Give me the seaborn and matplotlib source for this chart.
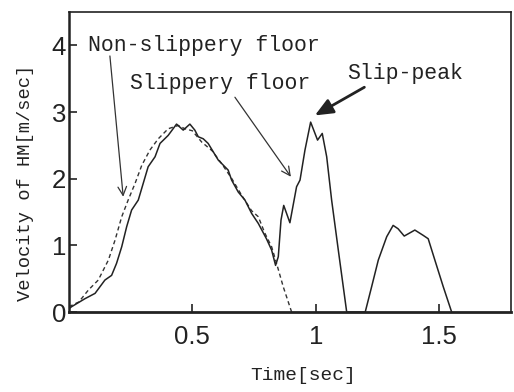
import matplotlib
matplotlib.use("Agg")
import matplotlib.pyplot as plt
import seaborn as sns
import pandas as pd

# Centre-of-mass velocity over time, slippery floor (solid)
slip_t = [0.0, 0.011, 0.065, 0.106, 0.146, 0.173, 0.193, 0.214, 0.234, 0.254,
          0.281, 0.301, 0.321, 0.349, 0.369, 0.402, 0.436, 0.463, 0.49, 0.51,
          0.524, 0.544, 0.564, 0.605, 0.645, 0.659, 0.686, 0.713, 0.74, 0.767,
          0.8, 0.821, 0.837, 0.848, 0.859, 0.870, 0.895, 0.922, 0.936, 0.956,
          0.979, 1.007, 1.026, 1.044, 1.064, 1.091, 1.125, 1.2, 1.226, 1.253,
          1.287, 1.313, 1.333, 1.358, 1.401, 1.435, 1.455, 1.482, 1.516, 1.55]
slip_v = [0.05, 0.08, 0.2, 0.28, 0.48, 0.55, 0.73, 0.98, 1.28, 1.53,
          1.68, 1.93, 2.18, 2.33, 2.53, 2.65, 2.82, 2.73, 2.82, 2.73,
          2.63, 2.6, 2.53, 2.28, 2.13, 1.98, 1.8, 1.68, 1.48, 1.33,
          1.1, 0.93, 0.7, 0.83, 1.38, 1.6, 1.34, 1.88, 1.98, 2.43,
          2.85, 2.58, 2.68, 2.33, 1.68, 0.93, 0.0, 0.0, 0.38, 0.78,
          1.13, 1.3, 1.25, 1.14, 1.23, 1.15, 1.1, 0.78, 0.38, 0.0]

# Non-slippery floor (dashed)
dry_t = [0.0, 0.04, 0.079, 0.119, 0.16, 0.187, 0.214, 0.24, 0.268, 0.295,
         0.328, 0.362, 0.402, 0.443, 0.47, 0.5, 0.538, 0.58, 0.62, 0.66,
         0.70, 0.74, 0.767, 0.794, 0.821, 0.841, 0.868, 0.902]
dry_v = [0.08, 0.15, 0.33, 0.48, 0.78, 1.08, 1.43, 1.68, 1.93, 2.2,
         2.43, 2.6, 2.75, 2.8, 2.75, 2.72, 2.55, 2.42, 2.22, 2.0,
         1.75, 1.52, 1.43, 1.18, 0.98, 0.73, 0.38, 0.0]

x_ticks = [0.5, 1, 1.5]
x_tick_labels = ["0.5", "1", "1.5"]
y_ticks = [0, 1, 2, 3, 4]

sns.set_theme(style="white")
plt.rcParams["font.family"] = ["Liberation Mono", "DejaVu Sans Mono"]

fig = plt.figure(figsize=(5.14, 3.92), dpi=100)
ax = fig.add_axes([0.134, 0.204, 0.860, 0.765])

slip_df = pd.DataFrame({"t": slip_t, "v": slip_v})
dry_df = pd.DataFrame({"t": dry_t, "v": dry_v})

sns.lineplot(data=dry_df, x="t", y="v", ax=ax, color="#333333", lw=1.0,
             linestyle=(0, (3, 2.2)), sort=False)
sns.lineplot(data=slip_df, x="t", y="v", ax=ax, color="#222222", lw=1.1,
             sort=False)

ax.set_xlim(0, 1.79)
ax.set_ylim(0, 4.5)
ax.set_xticks(x_ticks)
ax.set_xticklabels(x_tick_labels)
ax.set_yticks(y_ticks)

tick_font = {"family": "Liberation Sans", "size": 18.5}
for lab in ax.get_xticklabels() + ax.get_yticklabels():
    lab.set_fontfamily(tick_font["family"])
    lab.set_fontsize(tick_font["size"])
    lab.set_color("#222222")

ax.tick_params(axis="both", direction="in", length=6, width=1.2,
               color="#222222", left=True, bottom=True)
ax.tick_params(axis="x", pad=9)
ax.tick_params(axis="y", pad=2)

for side, lw in [("left", 1.8), ("bottom", 2.0), ("top", 1.2), ("right", 1.2)]:
    ax.spines[side].set_visible(True)
    ax.spines[side].set_linewidth(lw)
    ax.spines[side].set_color("#222222")

ax.set_xlabel("Time[sec]", fontsize=14, color="#222222", va="center")
ax.xaxis.set_label_coords(0.53, -0.21)
ax.set_ylabel("Velocity of HM[m/sec]", fontsize=13.5, color="#222222",
              va="center")
ax.yaxis.set_label_coords(-0.099, 0.43)

ax.annotate("Non-slippery floor", xy=(0.22, 1.73), xytext=(0.077, 4.0),
            fontsize=15.5, color="#222222", va="center", ha="left",
            arrowprops=dict(arrowstyle="->", color="#333333", lw=0.9,
                            shrinkA=0, shrinkB=0,
                            patchA=None, relpos=(0.095, 0.0)))
ax.annotate("Slippery floor", xy=(0.899, 2.03), xytext=(0.247, 3.43),
            fontsize=15.5, color="#222222", va="center", ha="left",
            arrowprops=dict(arrowstyle="->", color="#333333", lw=0.9,
                            shrinkA=0, shrinkB=0, relpos=(0.57, 0.0)))
ax.annotate("Slip-peak", xy=(0.996, 2.95), xytext=(1.126, 3.58),
            fontsize=15.5, color="#222222", va="center", ha="left",
            arrowprops=dict(arrowstyle="-|>,head_length=0.7,head_width=0.3",
                            color="#222222", lw=2.0,
                            shrinkA=0, shrinkB=0, relpos=(0.2, 0.0)))

fig.savefig("out.png", dpi=100)
